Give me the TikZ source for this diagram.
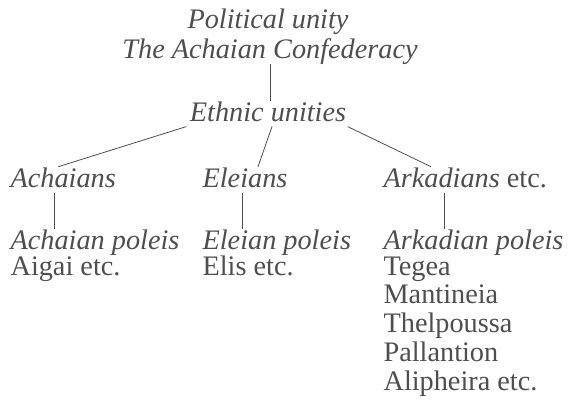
\documentclass[tikz,border=0pt]{standalone}
\usepackage{fontspec}
\setmainfont{Liberation Serif}
\usepackage{xcolor}
\usetikzlibrary{positioning,calc}
\definecolor{inkgray}{RGB}{78,78,78}

\begin{document}
\begin{tikzpicture}[x=0.75pt,y=-0.75pt]
    \tikzset{
        term/.style={inner sep=1pt, text height=14pt, text depth=3pt, text=inkgray, font=\fontsize{21.2}{21.56}\selectfont\itshape},
        plain/.style={inner sep=1pt, text=inkgray, align=left, font=\fontsize{21.2}{21.56}\selectfont},
        link/.style={draw=inkgray, line width=0.6pt}
    }
    \useasboundingbox (0,0) rectangle (568,408);

    \node[term, anchor=base] (polity) at (268,28) {Political unity};
    \node[term, anchor=base] (league) at (270,58) {The Achaian Confederacy};
    \node[term, anchor=base] (ethnic) at (268,121) {Ethnic unities};

    \node[term, anchor=base west] (achaians) at (9,187) {Achaians};
    \node[term, anchor=base west] (eleians) at (201,187) {Eleians};
    \node[term, anchor=base west, font=\fontsize{21.2}{21.56}\selectfont] (arkadians) at (382,187) {\textit{Arkadians} etc.};

    \node[term, anchor=base west] (achpoleis) at (9,249) {Achaian poleis};
    \node[term, anchor=base west] (elpoleis) at (201,249) {Eleian poleis};
    \node[term, anchor=base west] (arkpoleis) at (382,249) {Arkadian poleis};

    % list nodes are anchored on their last line
    \node[plain, anchor=base west] (achcities) at (9,275) {Aigai etc.};
    \node[plain, anchor=base west] (elcities) at (201,275) {Elis etc.};
    \node[plain, anchor=base west] (arkcities) at (382,390) {Tegea\\Mantineia\\Thelpoussa\\Pallantion\\Alipheira etc.};

    \draw[link] (league.south) -- (league.south |- ethnic.north);
    \draw[link] ($(ethnic.south west)+(-2,0)$) -- ($(achaians.north)+(-5,0)$);
    \draw[link] ($(ethnic.south)+(4,0)$) -- ($(eleians.north)+(13,0)$);
    \draw[link] (ethnic.south east) -- ($(arkadians.north west)+(49,0)$);

    \draw[link] ($(achaians.south west)+(45,0)$) -- ($(achpoleis.north west)+(45,0)$);
    \draw[link] ($(eleians.south west)+(41,0)$) -- ($(elpoleis.north west)+(41,0)$);
    \draw[link] ($(arkadians.south west)+(62,0)$) -- ($(arkpoleis.north west)+(62,0)$);
\end{tikzpicture}
\end{document}
